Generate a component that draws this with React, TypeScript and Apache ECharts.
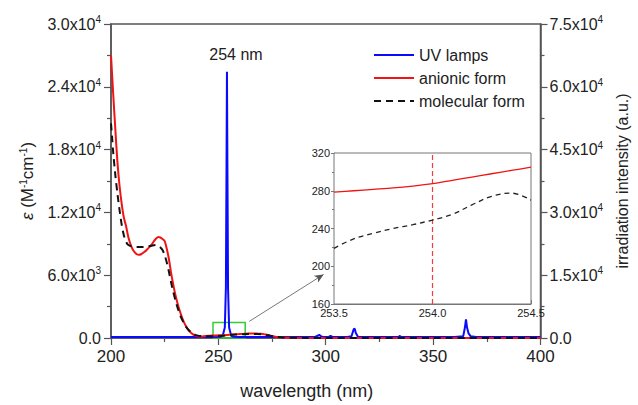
import React, { useEffect, useRef } from "react";
import * as echarts from "echarts";

const absWavelength = [200, 200.5, 201, 202, 203, 204, 205, 206, 207, 208, 209, 210, 211, 212, 213, 214, 215, 216, 217, 218, 219, 220, 221, 222, 223, 224, 225, 226, 227, 228, 229, 230, 231, 232, 233, 234, 235, 236, 237, 238, 239, 240, 242, 244, 246, 248, 250, 252, 254, 256, 258, 260, 262, 264, 266, 268, 270, 272, 274, 276, 278, 280, 290, 300, 320, 350, 400];
const anionic = [27000, 25200, 23400, 20000, 16800, 14500, 12800, 11500, 10700, 9700, 9000, 8500, 8200, 8000, 7950, 8000, 8150, 8300, 8500, 8700, 8950, 9250, 9500, 9650, 9600, 9450, 9250, 8500, 7500, 6200, 5100, 4100, 3300, 2600, 2000, 1500, 1100, 780, 550, 370, 250, 170, 150, 200, 220, 240, 255, 268, 286, 330, 350, 380, 400, 420, 430, 420, 400, 330, 250, 150, 80, 40, 10, 0, 0, 0, 0];
const molecular = [20500, 19200, 17800, 15600, 13800, 12200, 10800, 9800, 9200, 8900, 8800, 8750, 8720, 8700, 8700, 8700, 8700, 8720, 8750, 8780, 8820, 8860, 8880, 8800, 8650, 8400, 7900, 7200, 6300, 5300, 4400, 3600, 2900, 2300, 1800, 1400, 1050, 800, 600, 430, 320, 250, 180, 170, 175, 180, 195, 205, 249, 300, 330, 350, 370, 380, 385, 380, 360, 300, 220, 150, 90, 50, 10, 0, 0, 0, 0];

const uvWavelength = [200, 210, 220, 230, 240, 248, 251, 252, 253, 253.5, 253.8, 254, 254.2, 254.5, 255, 256, 257, 260, 270, 280, 290, 295, 296.5, 297, 297.5, 298.5, 301.5, 302.3, 303, 310, 312, 313, 313.5, 314, 315, 320, 330, 334, 334.5, 335, 340, 350, 360, 364, 364.8, 365.3, 365.8, 366.5, 367.5, 370, 380, 390, 400];
const uvIntensity = [250, 220, 240, 230, 250, 260, 300, 500, 2500, 12000, 42000, 63600, 42000, 12000, 2500, 500, 300, 260, 240, 230, 240, 250, 600, 780, 500, 260, 300, 500, 280, 250, 400, 2100, 2200, 1200, 300, 240, 230, 300, 500, 280, 240, 250, 240, 400, 2500, 4440, 2500, 1100, 400, 260, 240, 250, 240];

const insetWavelength = [253.5, 253.6, 253.7, 253.8, 253.9, 254.0, 254.1, 254.2, 254.3, 254.4, 254.5];
const insetAnionic = [278.5, 280, 281.5, 283, 285, 287.5, 291, 294.5, 298, 301.5, 305];
const insetMolecular = [219, 229, 235, 240, 244, 249, 255, 265, 274, 277.5, 270];

const seriesNames = ["UV lamps", "anionic form", "molecular form"];
const peakLabel = "254 nm";

const FONT = "Liberation Sans, Arial, sans-serif";
const TXT = "#222";
const AX = "#555";

function sci(v: number): string {
  if (v === 0) return "{b|0.0}";
  const e = Math.floor(Math.log10(v) + 1e-9);
  const m = v / Math.pow(10, e);
  return `{b|${m.toFixed(1)}x10}{s|${e}}`;
}

const sciRich = {
  b: { fontSize: 16, fontFamily: FONT, color: TXT },
  s: { fontSize: 10, fontFamily: FONT, color: TXT, padding: [0, 0, 9, 0] },
};

function pairs(xs: number[], ys: number[]) {
  return xs.map((x, i) => [x, ys[i]]);
}

export default function App() {
  const ref = useRef<HTMLDivElement>(null);
  useEffect(() => {
    if (!ref.current) return;
    const chart = echarts.init(ref.current, undefined, { renderer: "svg" });
    const mainAxisCommon = {
      axisLine: { show: true, lineStyle: { color: AX, width: 1.5 } },
      axisTick: { show: true, length: 7, lineStyle: { color: AX, width: 1.2 } },
      minorTick: { show: true, splitNumber: 2, length: 4, lineStyle: { color: AX, width: 1.2 } },
      splitLine: { show: false },
    };
    const insetAxisCommon = {
      axisLine: { show: true, lineStyle: { color: "#777", width: 1 } },
      axisTick: { show: true, length: 3, lineStyle: { color: "#777" } },
      minorTick: { show: true, splitNumber: 2, length: 2, lineStyle: { color: "#777" } },
      splitLine: { show: false },
    };
    chart.setOption({
      animation: false,
      backgroundColor: "#fff",
      textStyle: { fontFamily: FONT },
      grid: [
        { left: 111, top: 24, width: 438, height: 321, show: true, borderColor: AX, borderWidth: 1.5, backgroundColor: "transparent" },
        { left: 334, top: 153, width: 197, height: 151, show: true, borderColor: "#777", borderWidth: 1, backgroundColor: "#fff", z: 5 },
      ],
      legend: {
        data: seriesNames,
        orient: "vertical",
        left: 368,
        top: 42,
        itemWidth: 40,
        itemHeight: 14,
        itemGap: 7,
        itemStyle: { opacity: 0 },
        textStyle: { fontSize: 16, color: TXT, fontFamily: FONT },
      },
      xAxis: [
        {
          type: "value", gridIndex: 0, min: 200, max: 400, interval: 50,
          ...mainAxisCommon,
          axisLabel: { fontSize: 17, color: TXT, margin: 10, fontFamily: FONT },
          name: "wavelength (nm)", nameLocation: "middle", nameGap: 44,
          nameTextStyle: { fontSize: 18, color: TXT, fontFamily: FONT, padding: [0, 38, 0, 0] },
        },
        {
          type: "value", gridIndex: 1, min: 253.5, max: 254.5, interval: 0.5,
          ...insetAxisCommon,
          axisTick: { show: true, inside: true, length: 4, lineStyle: { color: "#777" } },
          minorTick: { show: true, splitNumber: 2, length: 4, lineStyle: { color: "#777" } },
          axisLabel: { fontSize: 11, color: TXT, margin: 3, fontFamily: FONT, formatter: (v: number) => v.toFixed(1) },
        },
      ],
      yAxis: [
        {
          type: "value", gridIndex: 0, min: 0, max: 30000, interval: 6000,
          ...mainAxisCommon,
          axisLabel: { margin: 10, formatter: sci, rich: sciRich },
          name: "{i|ε} (M{s|-1}cm{s|-1})", nameLocation: "middle", nameRotate: 90, nameGap: 74,
          nameTextStyle: {
            fontSize: 17, color: TXT, fontFamily: FONT,
            rich: {
              i: { fontSize: 17, fontStyle: "italic", fontFamily: FONT, color: TXT },
              s: { fontSize: 10, fontFamily: FONT, color: TXT, padding: [0, 0, 9, 0] },
            },
          },
        },
        {
          type: "value", gridIndex: 0, min: 0, max: 75000, interval: 15000, position: "right",
          ...mainAxisCommon,
          axisLabel: { margin: 9, formatter: sci, rich: sciRich },
          name: "irradiation intensity (a.u.)", nameLocation: "middle", nameRotate: 90, nameGap: 72,
          nameTextStyle: { fontSize: 16, color: TXT, fontFamily: FONT },
        },
        {
          type: "value", gridIndex: 1, min: 160, max: 320, interval: 40,
          ...insetAxisCommon,
          axisLabel: { fontSize: 11, color: TXT, margin: 4, fontFamily: FONT },
        },
      ],
      series: [
        {
          name: seriesNames[0], type: "line", xAxisIndex: 0, yAxisIndex: 1,
          data: pairs(uvWavelength, uvIntensity), showSymbol: false, symbol: "none",
          lineStyle: { color: "#0a0aff", width: 2 }, itemStyle: { color: "#0a0aff" },
          markPoint: {
            symbol: "circle", symbolSize: 0,
            data: [{ coord: [254, 63600] }],
            label: { show: true, formatter: peakLabel, position: "top", offset: [9, -4], fontSize: 16, color: TXT, fontFamily: FONT },
          },
        },
        {
          name: seriesNames[1], type: "line", xAxisIndex: 0, yAxisIndex: 0,
          data: pairs(absWavelength, anionic), showSymbol: false, symbol: "none", smooth: 0.3,
          lineStyle: { color: "#f01414", width: 2 }, itemStyle: { color: "#f01414" },
          markArea: {
            silent: true,
            itemStyle: { color: "rgba(0,0,0,0)", borderColor: "#33cc33", borderWidth: 1.5 },
            data: [[{ coord: [247.5, 0] }, { coord: [262.5, 1480] }]],
          },
        },
        {
          name: seriesNames[2], type: "line", xAxisIndex: 0, yAxisIndex: 0,
          data: pairs(absWavelength, molecular), showSymbol: false, symbol: "none", smooth: 0.3,
          lineStyle: { color: "#111", width: 2, type: [7, 5] }, itemStyle: { color: "#111" },
          markLine: {
            silent: true, symbol: ["none", "arrow"], symbolSize: [6, 9],
            lineStyle: { color: "#555", width: 0.8, type: "solid" },
            label: { show: false },
            data: [[{ coord: [264.4, 1590] }, { coord: [299, 6075] }]],
          },
        },
        {
          name: "inset anionic", type: "line", xAxisIndex: 1, yAxisIndex: 2, z: 6,
          data: pairs(insetWavelength, insetAnionic), showSymbol: false, symbol: "none", smooth: 0.3,
          lineStyle: { color: "#f01414", width: 1.3 },
          markLine: {
            silent: true, symbol: ["none", "none"],
            lineStyle: { color: "#f03c3c", width: 1.2, type: [5, 3] },
            label: { show: false },
            data: [{ xAxis: 254.0 }],
          },
        },
        {
          name: "inset molecular", type: "line", xAxisIndex: 1, yAxisIndex: 2, z: 6,
          data: pairs(insetWavelength, insetMolecular), showSymbol: false, symbol: "none", smooth: 0.4,
          lineStyle: { color: "#222", width: 1.3, type: [5, 4] },
        },
      ],
    });
    return () => chart.dispose();
  }, []);
  return <div ref={ref} style={{ position: "fixed", left: 0, top: 0, width: 638, height: 405 }} />;
}
